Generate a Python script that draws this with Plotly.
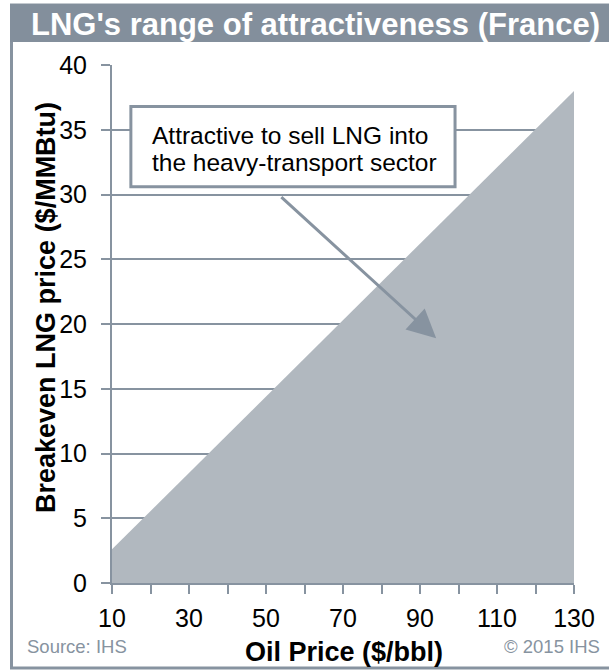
import plotly.graph_objects as go

# Data
oil_price = [10, 130]
breakeven_lng = [2.6, 38.0]
x_ticks = [10, 20, 30, 40, 50, 60, 70, 80, 90, 100, 110, 120, 130]
x_tick_labels = ["10", "", "30", "", "50", "", "70", "", "90", "", "110", "", "130"]
y_ticks = [0, 5, 10, 15, 20, 25, 30, 35, 40]

GRAY = "#8793a0"
FILL = "#b1b8bf"
FONT = "Liberation Sans, Arial, sans-serif"

fig = go.Figure()
fig.add_trace(go.Scatter(
    x=oil_price, y=breakeven_lng, mode="lines", fill="tozeroy",
    fillcolor=FILL, line=dict(width=0, color=FILL), hoverinfo="skip",
))

L, R, T, B = 112, 35, 65, 88
W, H = 609, 671
pw, ph = W - L - R, H - T - B

def px(xp):
    return (xp - L) / pw

def py(yp):
    return (H - B - yp) / ph

shapes = [
    # outer frame
    dict(type="rect", xref="paper", yref="paper", x0=px(11.5), x1=px(640),
         y0=py(668), y1=py(5), line=dict(color=GRAY, width=3), fillcolor="rgba(0,0,0,0)", layer="below"),
    # title bar
    dict(type="rect", xref="paper", yref="paper", x0=px(10), x1=px(640),
         y0=py(42), y1=py(4), line=dict(width=0), fillcolor="#838f9c", layer="below"),
    # annotation box
    dict(type="rect", xref="x", yref="y", x0=14.9, x1=99.1, y0=30.6, y1=36.8,
         line=dict(color=GRAY, width=3), fillcolor="white", layer="above"),
]

annotations = [
    dict(text="<b>LNG's range of attractiveness (France)</b>", xref="paper", yref="paper",
         x=px(29), y=py(25), xanchor="left", yanchor="middle", showarrow=False,
         font=dict(family=FONT, size=31, color="white")),
    dict(text="Attractive to sell LNG into", xref="x", yref="y",
         x=19.8, y=34.55, xanchor="left", yanchor="middle", align="left", showarrow=False,
         font=dict(family=FONT, size=24.5, color="black")),
    dict(text="the heavy-transport sector", xref="x", yref="y",
         x=19.8, y=32.45, xanchor="left", yanchor="middle", align="left", showarrow=False,
         font=dict(family=FONT, size=24.5, color="black")),
    dict(text="", xref="x", yref="y", axref="x", ayref="y",
         x=94.2, y=18.9, ax=53.6, ay=29.9, showarrow=True,
         arrowhead=2, arrowsize=1.9, arrowwidth=3, arrowcolor=GRAY, standoff=0),
    dict(text="<b>Oil Price ($/bbl)</b>", xref="paper", yref="paper",
         x=px(344), y=py(652), xanchor="center", yanchor="middle", showarrow=False,
         font=dict(family=FONT, size=27, color="black")),
    dict(text="<b>Breakeven LNG price ($/MMBtu)</b>", xref="paper", yref="paper",
         x=px(46), y=py(308), xanchor="center", yanchor="middle", showarrow=False,
         textangle=-90, font=dict(family=FONT, size=27, color="black")),
    dict(text="Source: IHS", xref="paper", yref="paper",
         x=px(25), y=py(646), xanchor="left", yanchor="middle", showarrow=False,
         font=dict(family=FONT, size=18.5, color=GRAY)),
    dict(text="© 2015 IHS", xref="paper", yref="paper",
         x=px(602), y=py(646), xanchor="right", yanchor="middle", showarrow=False,
         font=dict(family=FONT, size=18.5, color=GRAY)),
]

fig.update_layout(
    width=W, height=H,
    margin=dict(l=L, r=R, t=T, b=B),
    paper_bgcolor="white", plot_bgcolor="white",
    showlegend=False,
    shapes=shapes, annotations=annotations,
    font=dict(family=FONT, size=25, color="black"),
    xaxis=dict(range=[10, 130], tickvals=x_ticks, ticktext=x_tick_labels,
               ticks="outside", ticklen=9, tickwidth=2, tickcolor=GRAY,
               showgrid=False, zeroline=False, showline=True, linecolor=GRAY, linewidth=2,
               layer="below traces", tickfont=dict(size=25), ticklabelstandoff=3),
    yaxis=dict(range=[0, 40], tickvals=y_ticks,
               ticks="outside", ticklen=9, tickwidth=2, tickcolor=GRAY,
               showgrid=True, gridcolor=GRAY, gridwidth=1.5, zeroline=False,
               showline=True, linecolor=GRAY, linewidth=2, layer="below traces",
               tickfont=dict(size=25), ticklabelstandoff=9),
)

fig.write_html("out.html")
